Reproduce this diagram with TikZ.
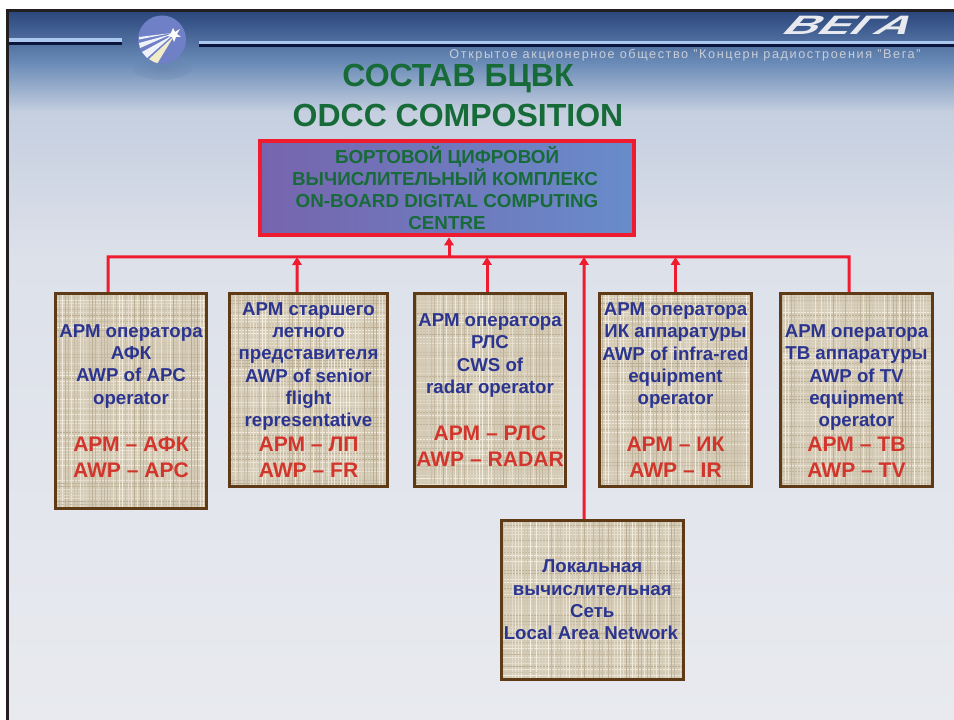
\documentclass[tikz,border=0pt]{standalone}
\usepackage{fontspec}
\setmainfont{Liberation Sans}
\usetikzlibrary{arrows.meta,calc,positioning}
\definecolor{frameK}{HTML}{231F20}
\definecolor{titleG}{HTML}{176B38}
\definecolor{boxB}{HTML}{2B3590}
\definecolor{boxR}{HTML}{D2352B}
\definecolor{busR}{HTML}{EE1C2E}
\definecolor{brownB}{HTML}{5F3A17}
\definecolor{burL}{HTML}{F3EEE2}
\definecolor{burD}{HTML}{B8AB92}
\definecolor{burM}{HTML}{D6CCB6}
\definecolor{bgA}{RGB}{44,72,126}
\definecolor{bgB}{RGB}{105,138,182}
\definecolor{bgC}{RGB}{197,207,224}
\definecolor{bgD}{RGB}{221,225,234}
\definecolor{bgE}{RGB}{232,234,239}
\definecolor{ruleL}{RGB}{170,200,240}
\definecolor{ruleD}{RGB}{12,22,60}
\definecolor{emb}{RGB}{112,128,198}
\definecolor{embS}{RGB}{80,105,150}
\definecolor{embT}{RGB}{240,235,200}
\definecolor{brandC}{RGB}{232,234,240}
\definecolor{compC}{RGB}{200,205,215}
\definecolor{topL}{RGB}{118,100,174}
\definecolor{topR}{RGB}{104,140,202}
\newcommand{\bluef}{\fontsize{14pt}{16.75pt}\selectfont\bfseries\color{boxB}}
\newcommand{\redl}[1]{{\fontsize{15.8pt}{16.75pt}\selectfont\bfseries\color{boxR}#1}}
\newcommand{\burlap}{%
  \begin{scope}[shift={(path picture bounding box.center)}]
    \foreach \i in {-231,-228,...,231}{
      \pgfmathrandominteger{\rr}{0}{100}
      \draw[line width=0.5pt,draw=burL!\rr!burD] (\i,-231) -- (\i,231);
      \pgfmathrandominteger{\rr}{0}{100}
      \draw[line width=0.5pt,draw=burL!\rr!burD] (-231,\i) -- (231,\i);
    }
  \end{scope}}
\tikzset{
  sack/.style={draw=brownB,line width=2.25pt,fill=burM,inner sep=0pt,align=center,
    font=\bluef,text=boxB,path picture={\burlap}},
  bus/.style={draw=busR,line width=2.25pt},
  busarrow/.style={bus,-{Triangle[length=6pt,width=7pt]}},
  titletext/.style={font=\fontsize{24pt}{29pt}\selectfont\bfseries,text=titleG,align=center,inner sep=0pt},
}
\pgfmathsetseed{4242}
\begin{document}
\begin{tikzpicture}[x=0.75pt,y=-0.75pt]
\useasboundingbox[fill=white] (0,0) rectangle (954,720);
% background
\shade[top color=bgA,bottom color=bgB,draw=none] (9,12) rectangle (954,62);
\shade[top color=bgB,bottom color=bgC,draw=none] (9,62) rectangle (954,112);
\shade[top color=bgC,bottom color=bgD,draw=none] (9,112) rectangle (954,260);
\shade[top color=bgD,bottom color=bgE,draw=none] (9,260) rectangle (954,720);
\fill[frameK] (6,9) rectangle (954,12);
\fill[frameK] (6,9) rectangle (9,720);
% header rules
\fill[ruleL] (9,38.5) rectangle (122,41.7);
\fill[ruleD] (9,41.7) rectangle (122,45);
\fill[ruleL] (199,40.7) rectangle (954,44.3);
\fill[ruleD] (199,44.3) rectangle (954,46.7);
% emblem
\shade[inner color=embS,outer color=bgB,opacity=.25] (162,68) ellipse (30 and 12);
\fill[emb] (162,39.5) circle (24);
\begin{scope}
  \clip (162,39.5) circle (24);
  \fill[white,opacity=.9] (172,33) -- (139,37) -- (139,39.5) -- cycle;
  \fill[white,opacity=.9] (172,34) -- (139,43) -- (140,48) -- cycle;
  \fill[white,opacity=.9] (173,35) -- (142,52) -- (147,58) -- cycle;
  \fill[embT] (174,36) -- (149,59) -- (157,64) -- cycle;
\end{scope}
\fill[white] (173,28) -- (175,32) -- (180,29) -- (177,34) -- (181,37) -- (176,37) -- (174,42) -- (172,37) -- (167,36) -- (171,33) -- cycle;
% brand
\node[inner sep=0pt,text=brandC,xscale=1.8,xslant=.5,font=\fontsize{20pt}{24pt}\selectfont\bfseries] (brand) at (851,25) {ВЕГА};
\node[inner sep=0pt,text=compC,font=\fontsize{9.5pt}{11pt}\selectfont] (company) at (685,55)
  {\addfontfeatures{LetterSpace=12.5}Открытое акционерное общество "Концерн радиостроения "Вега"};
% title
\node[titletext] (t1) at (458,79) {СОСТАВ БЦВК};
\node[titletext] (t2) at (458,115) {ODCC COMPOSITION};
% centre box
\node[draw=busR,line width=3pt,minimum width=280.5pt,minimum height=71pt,inner sep=0pt,
  align=center,left color=topL,right color=topR,
  font=\fontsize{14.1pt}{16.5pt}\selectfont\bfseries,text=titleG] (top) at (447,188)
  {БОРТОВОЙ ЦИФРОВОЙ\\\hspace*{-3pt}ВЫЧИСЛИТЕЛЬНЫЙ КОМПЛЕКС\\ON-BOARD DIGITAL COMPUTING\hspace*{4.5pt}\\CENTRE};
% boxes
\node[sack,minimum width=113pt,minimum height=161.5pt] (n1) at (131,401)
  {АРМ оператора\\АФК\\AWP of APC\\operator\\[18.5pt]\redl{АРМ – АФК}\\[2.8pt]\redl{AWP – APC}};
\node[sack,minimum width=118.5pt,minimum height=144.5pt] (n2) at (308.5,390)
  {АРМ старшего\\летного\\представителя\\AWP of senior\\flight\\representative\\[2pt]\redl{АРМ – ЛП}\\[2.8pt]\redl{AWP – FR}};
\node[sack,minimum width=113pt,minimum height=144.5pt] (n3) at (490,390)
  {АРМ оператора\\РЛС\\CWS of\\radar operator\\[18.5pt]\redl{АРМ – РЛС}\\[2.8pt]\redl{AWP – RADAR}};
\node[sack,minimum width=113.5pt,minimum height=144.5pt] (n4) at (675.5,390)
  {АРМ оператора\\ИК аппаратуры\\AWP of infra-red\\equipment\\operator\\[18pt]\redl{АРМ – ИК}\\[2.8pt]\redl{AWP – IR}};
\node[sack,minimum width=113.5pt,minimum height=144.5pt] (n5) at (856.5,390)
  {\vphantom{А}\\АРМ оператора\\ТВ аппаратуры\\AWP of TV\\equipment\\operator\\[2pt]\redl{АРМ – ТВ}\\[2.8pt]\redl{AWP – TV}};
\node[sack,minimum width=136.3pt,minimum height=119pt] (n6) at (592.3,600)
  {Локальная\\вычислительная\\Сеть\\Local Area Network\hspace*{2pt}};
% bus
\coordinate (busL) at (108,257);
\coordinate (busE) at (849,257);
\coordinate (j2) at (297,257);
\coordinate (j3) at (487,257);
\coordinate (j4) at (675.5,257);
\coordinate (j6) at (584,257);
\coordinate (jt) at (449,257);
\draw[bus] ([xshift=-17.25pt]n1.north) -- (busL) -- (busE) -- ([xshift=-5.6pt]n5.north);
\draw[busarrow] ([xshift=-8.6pt]n2.north) -- (j2);
\draw[busarrow] ([xshift=-2.25pt]n3.north) -- (j3);
\draw[busarrow] (n4.north) -- (j4);
\draw[busarrow] ([xshift=-6.2pt]n6.north) -- (j6);
\draw[busarrow] (jt) -- ([xshift=1.5pt]top.south);
\end{tikzpicture}
\end{document}
